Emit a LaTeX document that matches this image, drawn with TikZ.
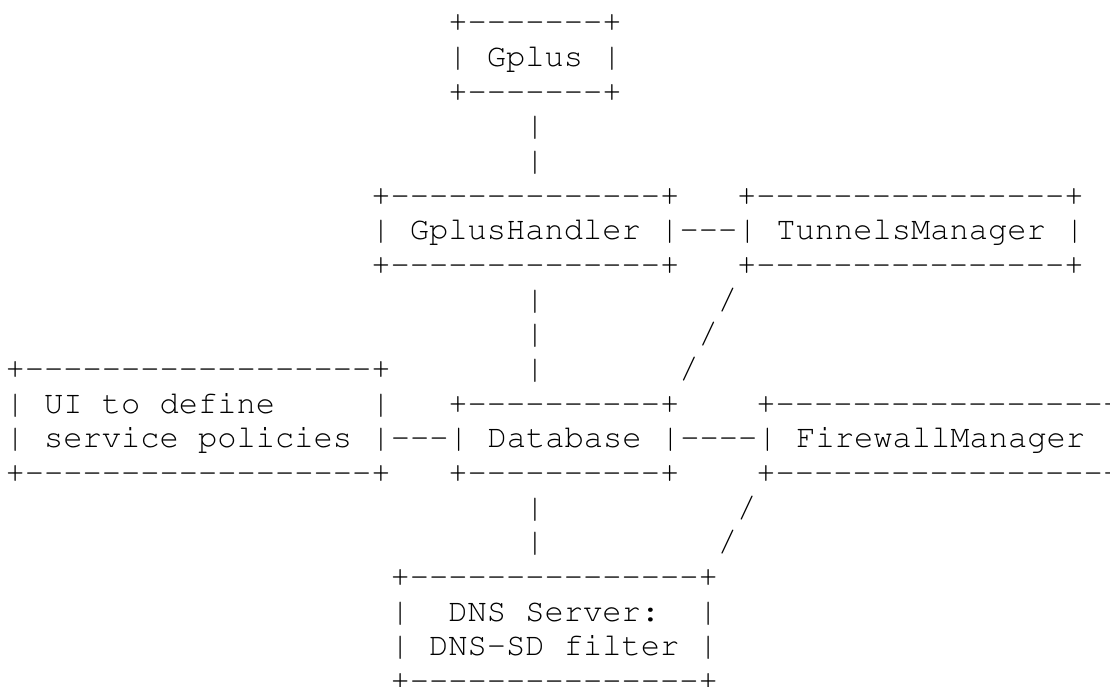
\documentclass[tikz,border=0pt]{standalone}
\usepackage[T1]{fontenc}
\usepackage{courier}
\usetikzlibrary{calc}

% a run of plain hyphens (no -- ligature)
\newcommand{\dashrun}[1]{\foreach \k in {1,...,#1}{-\relax}}

\begin{document}
\begin{tikzpicture}[x=19.25pt,y=-34.65pt,
  ascii/.style={font=\ttfamily\fontsize{32.08}{34.65}\selectfont,inner sep=0pt,anchor=base west}]

\clip (-0.2805,-0.9235) rectangle (57.382,18.903);
\fill[white] (-0.2805,-0.9235) rectangle (57.382,18.903);

% Gplus
\node[ascii] (gplusA) at (23,0) {+\dashrun{7}+};
\node[ascii] (gplus) at (23,1) {| Gplus |};
\node[ascii] (gplusB) at (23,2) {+\dashrun{7}+};
\node[ascii] (gplinka) at ($(gplusB.base west)+(4,1)$) {|};
\node[ascii] (gplinkb) at ($(gplinka.base west)+(0,1)$) {|};

% GplusHandler
\node[ascii] (handlerA) at (19,5) {+\dashrun{14}+};
\node[ascii] (handler) at (19,6) {| GplusHandler |};
\node[ascii] (handlerB) at (19,7) {+\dashrun{14}+};
\node[ascii] (htlink) at (handler.base east) {\dashrun{3}};

% TunnelsManager
\node[ascii] (tunnelsA) at (38,5) {+\dashrun{16}+};
\node[ascii] (tunnels) at (htlink.base east) {| TunnelsManager |};
\node[ascii] (tunnelsB) at (38,7) {+\dashrun{16}+};

% Links down to the database
\node[ascii] (hdlinka) at ($(handlerB.base west)+(8,1)$) {|};
\node[ascii] (hdlinkb) at ($(handlerB.base west)+(8,2)$) {|};
\node[ascii] (hdlinkc) at ($(handlerB.base west)+(8,3)$) {|};
\node[ascii] (tdlinka) at ($(tunnelsB.base west)+(-1,1)$) {/};
\node[ascii] (tdlinkb) at ($(tunnelsB.base west)+(-2,2)$) {/};
\node[ascii] (tdlinkc) at ($(tunnelsB.base west)+(-3,3)$) {/};

% UI
\node[ascii] (uiA) at (0,10) {+\dashrun{18}+};
\node[ascii] (ui) at (0,11) {| UI to define~~~~~|};
\node[ascii] (uiB) at (0,12) {| service policies |};
\node[ascii] (uiC) at (0,13) {+\dashrun{18}+};
\node[ascii] (uidblink) at (uiB.base east) {\dashrun{3}};

% Database
\node[ascii] (dbA) at (23,11) {+\dashrun{10}+};
\node[ascii] (db) at (uidblink.base east) {| Database |};
\node[ascii] (dbB) at (23,13) {+\dashrun{10}+};
\node[ascii] (dbfwlink) at (db.base east) {\dashrun{4}};

% FirewallManager
\node[ascii] (fwA) at (39,11) {+\dashrun{17}+};
\node[ascii] (fw) at (dbfwlink.base east) {| FirewallManager |};
\node[ascii] (fwB) at (39,13) {+\dashrun{17}+};

% Links down to the DNS server
\node[ascii] (ddlinka) at ($(dbB.base west)+(4,1)$) {|};
\node[ascii] (ddlinkb) at ($(dbB.base west)+(4,2)$) {|};
\node[ascii] (fdlinka) at ($(fwB.base west)+(-1,1)$) {/};
\node[ascii] (fdlinkb) at ($(fwB.base west)+(-2,2)$) {/};

% DNS server
\node[ascii] (dnsA) at (20,16) {+\dashrun{15}+};
\node[ascii] (dns) at (20,17) {|~~DNS Server:~~|};
\node[ascii] (dnsB) at (20,18) {| DNS-SD filter |};
\node[ascii] (dnsC) at (20,19) {+\dashrun{15}+};
\end{tikzpicture}
\end{document}
